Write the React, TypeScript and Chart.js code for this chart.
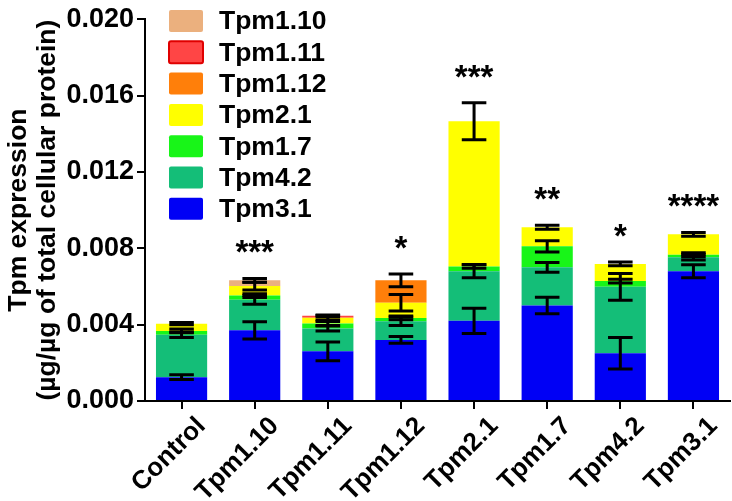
import React, { useEffect, useRef } from 'react';
import { Chart, registerables } from 'chart.js';

Chart.register(...registerables);

const categories = ['Control', 'Tpm1.10', 'Tpm1.11', 'Tpm1.12', 'Tpm2.1', 'Tpm1.7', 'Tpm4.2', 'Tpm3.1'];

// stacked bottom -> top
const tpm31 = [0.00125, 0.0037, 0.0026, 0.0032, 0.0042, 0.005, 0.0025, 0.0068];
const tpm31Err = [0.00012, 0.00045, 0.00049, 0.00018, 0.00066, 0.00043, 0.00083, 0.00034];
const tpm42 = [0.00222, 0.0016, 0.0012, 0.00098, 0.0026, 0.002, 0.00348, 0.00073];
const tpm42Err = [0.00015, 0.00023, 0.00013, 0.00022, 0.00034, 0.00026, 0.0007, 0.00015];
const tpm17 = [0.0002, 0.00022, 0.00026, 0.00017, 0.00025, 0.0011, 0.0003, 0.00013];
const tpm17Err = [0.0001, 0.0001, 0.0001, 0.0001, 0.0001, 0.0003, 0.0001, 0.0001];
const tpm21 = [0.00038, 0.0005, 0.0003, 0.0008, 0.0076, 0.001, 0.0009, 0.00107];
const tpm21Err = [0.00006, 0.0002, 0.00012, 0.00043, 0.00097, 0.0001, 0.0001, 0.0001];
const tpm112 = [0, 0, 0, 0.00117, 0, 0, 0, 0];
const tpm112Err = [0, 0, 0, 0.00033, 0, 0, 0, 0];
const tpm111 = [0, 0, 0.0001, 0, 0, 0, 0, 0];
const tpm111Err = [0, 0, 0.00005, 0, 0, 0, 0, 0];
const tpm110 = [0, 0.0003, 0, 0, 0, 0, 0, 0];
const tpm110Err = [0, 0.0001, 0, 0, 0, 0, 0, 0];

const significance = ['', '***', '', '*', '***', '**', '*', '****'];

const yTitle = ['Tpm expression', '(µg/µg of total cellular protein)'];
const yMin = 0;
const yMax = 0.02;
const yStep = 0.004;

const FONT = "'Liberation Sans', Arial, sans-serif";

const seriesDefs = [
  { label: 'Tpm3.1', data: tpm31, errors: tpm31Err, color: '#0000F5', border: '#0000F5' },
  { label: 'Tpm4.2', data: tpm42, errors: tpm42Err, color: '#14BE78', border: '#14BE78' },
  { label: 'Tpm1.7', data: tpm17, errors: tpm17Err, color: '#18F518', border: '#18F518' },
  { label: 'Tpm2.1', data: tpm21, errors: tpm21Err, color: '#FFFF00', border: '#FFFF00' },
  { label: 'Tpm1.12', data: tpm112, errors: tpm112Err, color: '#FF7F0A', border: '#FF7F0A' },
  { label: 'Tpm1.11', data: tpm111, errors: tpm111Err, color: '#FF4545', border: '#E00000' },
  { label: 'Tpm1.10', data: tpm110, errors: tpm110Err, color: '#EBB07E', border: '#EBB07E' },
];

const errorBarPlugin = {
  id: 'errorBars',
  afterDatasetsDraw(chart: any) {
    const ctx = chart.ctx;
    const y = chart.scales.y;
    const cum = categories.map(() => 0);
    ctx.save();
    ctx.strokeStyle = '#000';
    ctx.lineWidth = 3;
    chart.data.datasets.forEach((ds: any, di: number) => {
      const meta = chart.getDatasetMeta(di);
      ds.data.forEach((v: number, i: number) => {
        cum[i] += v;
        const e = ds.errors[i];
        if (!v || !e) return;
        const el = meta.data[i];
        const x = el.x;
        const half = el.width * 0.24;
        const yt = y.getPixelForValue(cum[i] + e);
        const yb = y.getPixelForValue(cum[i] - e);
        ctx.beginPath();
        ctx.moveTo(x, yt);
        ctx.lineTo(x, yb);
        ctx.moveTo(x - half, yt);
        ctx.lineTo(x + half, yt);
        ctx.moveTo(x - half, yb);
        ctx.lineTo(x + half, yb);
        ctx.stroke();
      });
    });
    ctx.restore();
  },
};

const significancePlugin = {
  id: 'significance',
  afterDatasetsDraw(chart: any) {
    const ctx = chart.ctx;
    const y = chart.scales.y;
    const x = chart.scales.x;
    ctx.save();
    ctx.fillStyle = '#000';
    ctx.font = `bold 33px ${FONT}`;
    ctx.textAlign = 'center';
    ctx.textBaseline = 'alphabetic';
    categories.forEach((_, i) => {
      const s = significance[i];
      if (!s) return;
      let cum = 0;
      let top = 0;
      chart.data.datasets.forEach((ds: any) => {
        cum += ds.data[i];
        if (ds.data[i]) top = Math.max(top, cum + (ds.errors[i] || 0));
      });
      const py = y.getPixelForValue(top) - 15;
      ctx.fillText(s, x.getPixelForValue(i), py);
    });
    ctx.restore();
  },
};

const legendPlugin = {
  id: 'customLegend',
  afterDraw(chart: any) {
    const ctx = chart.ctx;
    const area = chart.chartArea;
    const ds = [...chart.data.datasets].reverse();
    ctx.save();
    ctx.font = `bold 26.5px ${FONT}`;
    ctx.textBaseline = 'middle';
    ctx.textAlign = 'left';
    const bx = area.left + 24;
    const rowH = 31.3;
    const y0 = 21;
    ds.forEach((d: any, k: number) => {
      const cy = y0 + k * rowH;
      ctx.fillStyle = d.backgroundColor;
      ctx.beginPath();
      ctx.roundRect(bx, cy - 11, 34, 22, 2);
      ctx.fill();
      if (d.borderColor !== d.backgroundColor) {
        ctx.strokeStyle = d.borderColor;
        ctx.lineWidth = 2;
        ctx.stroke();
      }
      ctx.fillStyle = '#000';
      ctx.fillText(d.label, bx + 50, cy + 1);
    });
    ctx.restore();
  },
};

export default function App() {
  const ref = useRef<HTMLCanvasElement>(null);
  useEffect(() => {
    document.body.style.margin = '0';
    const canvas = ref.current!;
    const chart = new Chart(canvas, {
      type: 'bar',
      data: {
        labels: categories,
        datasets: seriesDefs.map((s) => ({
          label: s.label,
          data: s.data,
          errors: s.errors,
          backgroundColor: s.color,
          borderColor: s.border,
          borderWidth: 0,
          categoryPercentage: 1,
          barPercentage: 0.7,
        })) as any,
      },
      options: {
        animation: false,
        responsive: false,
        devicePixelRatio: 1,
        layout: { padding: { top: 13, right: 2, left: 0, bottom: 0 } },
        plugins: {
          legend: { display: false },
          tooltip: { enabled: false },
        },
        scales: {
          x: {
            stacked: true,
            grid: {
              display: true,
              drawOnChartArea: false,
              drawTicks: true,
              tickLength: 8,
              offset: false,
              color: '#000',
              lineWidth: 2,
            },
            border: { display: true, color: '#000', width: 2 },
            ticks: {
              color: '#000',
              font: { family: FONT, size: 26, weight: 'bold' },
              minRotation: 45,
              maxRotation: 45,
              padding: 2,
              labelOffset: 20,
            },
            afterFit(scale: any) {
              scale.height = 100;
            },
          },
          y: {
            stacked: true,
            min: yMin,
            max: yMax,
            grid: {
              display: true,
              drawOnChartArea: false,
              drawTicks: true,
              tickLength: 8,
              color: '#000',
              lineWidth: 2,
            },
            border: { display: true, color: '#000', width: 2 },
            ticks: {
              stepSize: yStep,
              color: '#000',
              font: { family: FONT, size: 27, weight: 'bold' },
              padding: 3,
              callback: (v: any) => Number(v).toFixed(3),
            },
            title: {
              display: true,
              text: yTitle,
              color: '#000',
              font: { family: FONT, size: 26.5, weight: 'bold', lineHeight: 1.1 },
              padding: { top: 4, bottom: 4 },
            },
            afterFit(scale: any) {
              scale.width = 145;
            },
          },
        },
      } as any,
      plugins: [errorBarPlugin, significancePlugin, legendPlugin],
    });
    return () => chart.destroy();
  }, []);
  return <canvas ref={ref} width={732} height={501} style={{ display: 'block', width: 732, height: 501 }} />;
}
